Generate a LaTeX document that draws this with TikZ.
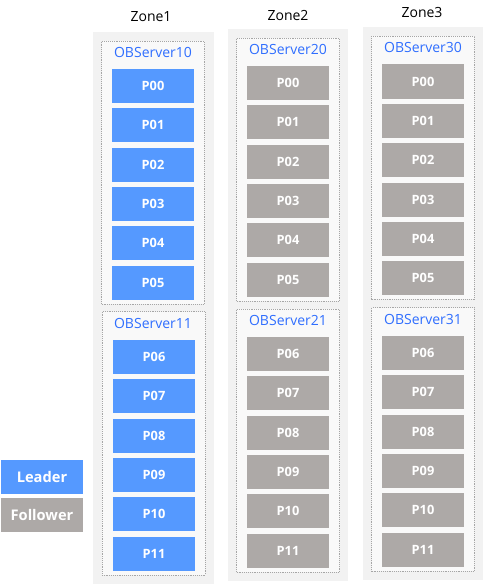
\documentclass[tikz,border=0pt]{standalone}
\usepackage{fontspec}
\setmainfont{Open Sans}
\usepackage{xcolor}
\definecolor{cLeader}{HTML}{5599FF}
\definecolor{cFollower}{HTML}{ADA9A7}
\definecolor{cServer}{HTML}{2F6EFF}
\definecolor{cZoneBg}{HTML}{F2F2F2}
\definecolor{cServerBg}{HTML}{F9F9F9}
\definecolor{cDots}{HTML}{A6A6A6}
\usepackage{tikz}
\usetikzlibrary{positioning,fit,backgrounds}
\pgfdeclarelayer{zone}
\pgfsetlayers{zone,background,main}
\tikzset{
  part-box/.style={text=white,font=\bfseries\fontsize{9.6}{11}\selectfont,
    minimum width=61.5pt,minimum height=25.5pt,inner sep=0pt},
  part-leader/.style={part-box,fill=cLeader},
  part-follower/.style={part-box,fill=cFollower},
  server-label/.style={text=cServer,font=\fontsize{10.5}{12}\selectfont,inner sep=1.5pt},
  server-box/.style={draw=cDots,densely dotted,fill=cServerBg,
    inner xsep=7.5pt,inner ysep=3pt},
  zone-box/.style={fill=cZoneBg,inner sep=6.5pt},
  zone-label/.style={font=\fontsize{10.5}{12}\selectfont,inner sep=0pt},
  legend-box/.style={text=white,font=\bfseries\fontsize{11}{13}\selectfont,
    minimum width=61.5pt,minimum height=25.5pt,inner sep=0pt},
}

\begin{document}
\begin{tikzpicture}[x=0.75pt,y=-0.75pt,node distance=3.6pt]
  \useasboundingbox (0,0) rectangle (486,585);
  % Zone1：OBServer10 / OBServer11 全为 Leader
  \node[zone-label] (z1) at (151,17) {Zone1};
  \node[server-label] (z1s0l) at (153,52.5) {OBServer10};
  \node[part-leader] (z1p00) at (153,86) {P00};
  \node[part-leader,below=of z1p00] (z1p01) {P01};
  \node[part-leader,below=of z1p01] (z1p02) {P02};
  \node[part-leader,below=of z1p02] (z1p03) {P03};
  \node[part-leader,below=of z1p03] (z1p04) {P04};
  \node[part-leader,below=of z1p04] (z1p05) {P05};
  \node[server-label] (z1s1l) at (153,323) {OBServer11};
  \node[part-leader] (z1p06) at (154,357) {P06};
  \node[part-leader,below=of z1p06] (z1p07) {P07};
  \node[part-leader,below=of z1p07] (z1p08) {P08};
  \node[part-leader,below=of z1p08] (z1p09) {P09};
  \node[part-leader,below=of z1p09] (z1p10) {P10};
  \node[part-leader,below=of z1p10] (z1p11) {P11};
  % Zone2：全为 Follower
  \node[zone-label] (z2) at (288,15) {Zone2};
  \node[server-label] (z2s0l) at (288,49.5) {OBServer20};
  \node[part-follower] (z2p00) at (288,83) {P00};
  \node[part-follower,below=of z2p00] (z2p01) {P01};
  \node[part-follower,below=of z2p01] (z2p02) {P02};
  \node[part-follower,below=of z2p02] (z2p03) {P03};
  \node[part-follower,below=of z2p03] (z2p04) {P04};
  \node[part-follower,below=of z2p04] (z2p05) {P05};
  \node[server-label] (z2s1l) at (288,320.5) {OBServer21};
  \node[part-follower] (z2p06) at (288,354) {P06};
  \node[part-follower,below=of z2p06] (z2p07) {P07};
  \node[part-follower,below=of z2p07] (z2p08) {P08};
  \node[part-follower,below=of z2p08] (z2p09) {P09};
  \node[part-follower,below=of z2p09] (z2p10) {P10};
  \node[part-follower,below=of z2p10] (z2p11) {P11};
  % Zone3：全为 Follower
  \node[zone-label] (z3) at (422,13) {Zone3};
  \node[server-label] (z3s0l) at (423,47.5) {OBServer30};
  \node[part-follower] (z3p00) at (423,81.5) {P00};
  \node[part-follower,below=of z3p00] (z3p01) {P01};
  \node[part-follower,below=of z3p01] (z3p02) {P02};
  \node[part-follower,below=of z3p02] (z3p03) {P03};
  \node[part-follower,below=of z3p03] (z3p04) {P04};
  \node[part-follower,below=of z3p04] (z3p05) {P05};
  \node[server-label] (z3s1l) at (423,319) {OBServer31};
  \node[part-follower] (z3p06) at (423,353) {P06};
  \node[part-follower,below=of z3p06] (z3p07) {P07};
  \node[part-follower,below=of z3p07] (z3p08) {P08};
  \node[part-follower,below=of z3p08] (z3p09) {P09};
  \node[part-follower,below=of z3p09] (z3p10) {P10};
  \node[part-follower,below=of z3p10] (z3p11) {P11};
  % 虚线 OBServer 框
  \begin{pgfonlayer}{background}
    \node[server-box,fit=(z1s0l)(z1p00)(z1p05)] (z1s0) {};
    \node[server-box,fit=(z1s1l)(z1p06)(z1p11)] (z1s1) {};
    \node[server-box,fit=(z2s0l)(z2p00)(z2p05)] (z2s0) {};
    \node[server-box,fit=(z2s1l)(z2p06)(z2p11)] (z2s1) {};
    \node[server-box,fit=(z3s0l)(z3p00)(z3p05)] (z3s0) {};
    \node[server-box,fit=(z3s1l)(z3p06)(z3p11)] (z3s1) {};
  \end{pgfonlayer}
  % 灰底 Zone 框
  \begin{pgfonlayer}{zone}
    \node[zone-box,fit=(z1s0)(z1s1)] (z1box) {};
    \node[zone-box,fit=(z2s0)(z2s1)] (z2box) {};
    \node[zone-box,fit=(z3s0)(z3s1)] (z3box) {};
  \end{pgfonlayer}
  % 图例
  \node[legend-box,fill=cLeader] (lgLeader) at (42,477) {Leader};
  \node[legend-box,fill=cFollower,below=2.25pt of lgLeader] (lgFollower) {Follower};
\end{tikzpicture}
\end{document}
